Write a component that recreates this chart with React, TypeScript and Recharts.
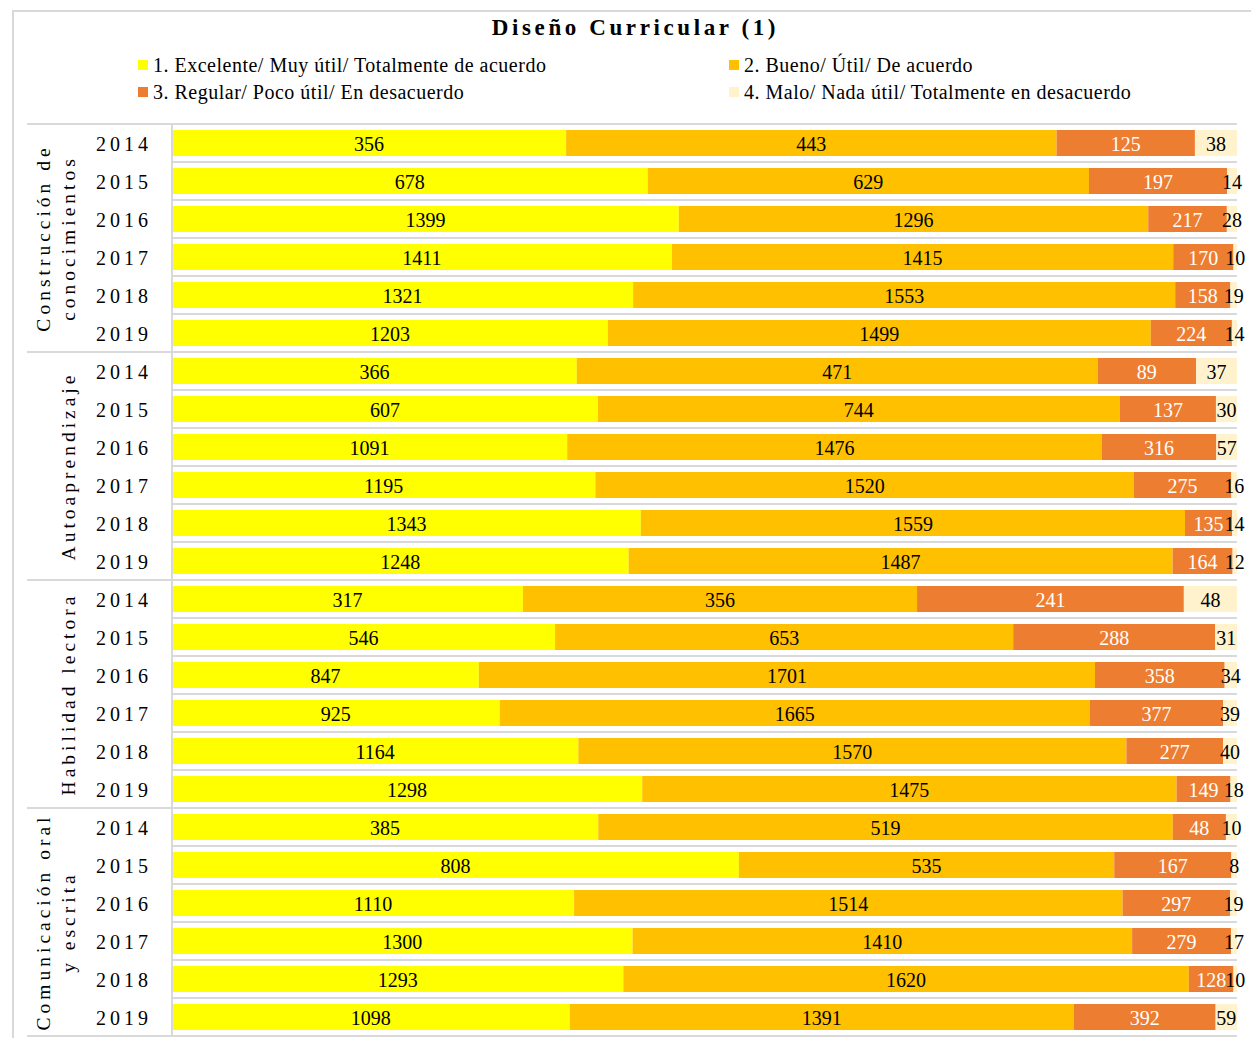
import React from "react";
import {
  BarChart,
  Bar,
  XAxis,
  YAxis,
  CartesianGrid,
  LabelList,
  Legend,
} from "recharts";

// categories
const groups = [
  ["Construcción de", "conocimientos"],
  ["Autoaprendizaje"],
  ["Habilidad lectora"],
  ["Comunicación oral", "y escrita"],
];
const years = ["2014", "2015", "2016", "2017", "2018", "2019"];

// series values, 6 years per group, groups in order above
const excelente = [
  356, 678, 1399, 1411, 1321, 1203,
  366, 607, 1091, 1195, 1343, 1248,
  317, 546, 847, 925, 1164, 1298,
  385, 808, 1110, 1300, 1293, 1098,
];
const bueno = [
  443, 629, 1296, 1415, 1553, 1499,
  471, 744, 1476, 1520, 1559, 1487,
  356, 653, 1701, 1665, 1570, 1475,
  519, 535, 1514, 1410, 1620, 1391,
];
const regular = [
  125, 197, 217, 170, 158, 224,
  89, 137, 316, 275, 135, 164,
  241, 288, 358, 377, 277, 149,
  48, 167, 297, 279, 128, 392,
];
const malo = [
  38, 14, 28, 10, 19, 14,
  37, 30, 57, 16, 14, 12,
  48, 31, 34, 39, 40, 18,
  10, 8, 19, 17, 10, 59,
];

const seriesNames = [
  "1. Excelente/ Muy útil/ Totalmente de acuerdo",
  "2. Bueno/ Útil/ De acuerdo",
  "3. Regular/ Poco útil/ En desacuerdo",
  "4. Malo/ Nada útil/ Totalmente en desacuerdo",
];
const colors = ["#ffff00", "#ffc000", "#ed7d31", "#fff2cc"];

const rows = excelente.map((v, i) => ({
  key: `g${Math.floor(i / 6)}-${years[i % 6]}`,
  group: Math.floor(i / 6),
  yearIdx: i % 6,
  year: years[i % 6],
  s1: v,
  s2: bueno[i],
  s3: regular[i],
  s4: malo[i],
}));

const W = 1251;
const H = 1038;
const TOP = 124;
const BOTTOM = 2;
const AXIS_W = 172;
const RIGHT = 14;
const ROW_H = (H - TOP - BOTTOM) / rows.length;
const SERIF = "Liberation Serif, Times New Roman, serif";
const GRID = "#d9d9d9";

function YearTick(props: any) {
  const { y, payload } = props;
  const row = rows.find((r) => r.key === payload.value);
  if (!row) return null;
  const lines = groups[row.group];
  const cy = y + 2.5 * ROW_H;
  return (
    <g>
      <text
        x={124}
        y={y}
        dy="0.4em"
        textAnchor="middle"
        fontFamily={SERIF}
        fontSize={20}
        letterSpacing={4}
        fill="#000"
      >
        {row.year}
      </text>
      {row.yearIdx === 0 && (
        <>
          <line x1={27} x2={AXIS_W} y1={y - ROW_H / 2} y2={y - ROW_H / 2} stroke={GRID} strokeWidth={2} />
          {lines.map((ln, li) => {
            const cx = 68 - (lines.length - 1 - li) * 25;
            return (
              <text
                key={li}
                x={cx}
                y={cy}
                transform={`rotate(-90 ${cx} ${cy})`}
                textAnchor="middle"
                dominantBaseline="central"
                fontFamily={SERIF}
                fontSize={19.5}
                letterSpacing={4}
                fill="#000"
              >
                {ln}
              </text>
            );
          })}
        </>
      )}
      {row.group === groups.length - 1 && row.yearIdx === years.length - 1 && (
        <line x1={27} x2={AXIS_W} y1={y + ROW_H / 2} y2={y + ROW_H / 2} stroke={GRID} strokeWidth={2} />
      )}
    </g>
  );
}

function LegendBox(props: any) {
  const items = props.payload || [];
  return (
    <div
      style={{
        display: "grid",
        gridTemplateColumns: "591px 500px",
        rowGap: 5,
        fontFamily: SERIF,
        fontSize: 20,
        letterSpacing: 0.5,
        color: "#000",
      }}
    >
      {items.map((it: any) => (
        <div key={it.value} style={{ display: "flex", alignItems: "center", height: 22 }}>
          <span style={{ width: 10, height: 10, background: it.color, marginRight: 5, display: "inline-block" }} />
          <span style={{ whiteSpace: "nowrap" }}>{it.value}</span>
        </div>
      ))}
    </div>
  );
}

export default function App() {
  const keys = ["s1", "s2", "s3", "s4"];
  return (
    <div
      style={{
        position: "absolute",
        left: 0,
        top: 0,
        width: W,
        height: H,
        overflow: "hidden",
        background: "#fff",
      }}
    >
      <div
        style={{
          position: "absolute",
          left: 12,
          top: 10,
          width: W,
          height: H,
          borderLeft: `2px solid ${GRID}`,
          borderTop: `2px solid ${GRID}`,
        }}
      />
      <div
        style={{
          position: "absolute",
          left: 22,
          width: W - 24,
          top: 15,
          textAlign: "center",
          fontFamily: SERIF,
          fontWeight: "bold",
          fontSize: 23,
          letterSpacing: 3.6,
          color: "#000",
        }}
      >
        Diseño Curricular (1)
      </div>
      <div style={{ position: "absolute", left: 0, top: 0 }}>
        <BarChart
          width={W}
          height={H}
          data={rows}
          layout="vertical"
          stackOffset="expand"
          barSize={26}
          margin={{ top: TOP, bottom: BOTTOM, left: 0, right: RIGHT }}
        >
          <CartesianGrid
            vertical={false}
            stroke={GRID}
            strokeWidth={2}
            horizontalCoordinatesGenerator={({ offset }: any) =>
              rows.map((_, i) => offset.top + i * (offset.height / rows.length)).concat(offset.top + offset.height)
            }
          />
          <XAxis type="number" hide domain={[0, 1]} />
          <YAxis
            type="category"
            dataKey="key"
            width={AXIS_W}
            axisLine={{ stroke: GRID, strokeWidth: 2 }}
            tickLine={false}
            interval={0}
            tick={<YearTick />}
          />
          <Legend
            layout="horizontal"
            verticalAlign="middle"
            content={<LegendBox />}
            wrapperStyle={{ top: 54, left: 138, width: 1100, height: 54 }}
          />
          {keys.map((k, i) => (
            <Bar
              key={k}
              dataKey={k}
              name={seriesNames[i]}
              stackId="a"
              fill={colors[i]}
              isAnimationActive={false}
            >
              <LabelList
                dataKey={k}
                position="center"
                fill={i === 2 ? "#fff" : "#000"}
                fontSize={20}
                fontFamily={SERIF}
                dy={1}
              />
            </Bar>
          ))}
        </BarChart>
      </div>
    </div>
  );
}
